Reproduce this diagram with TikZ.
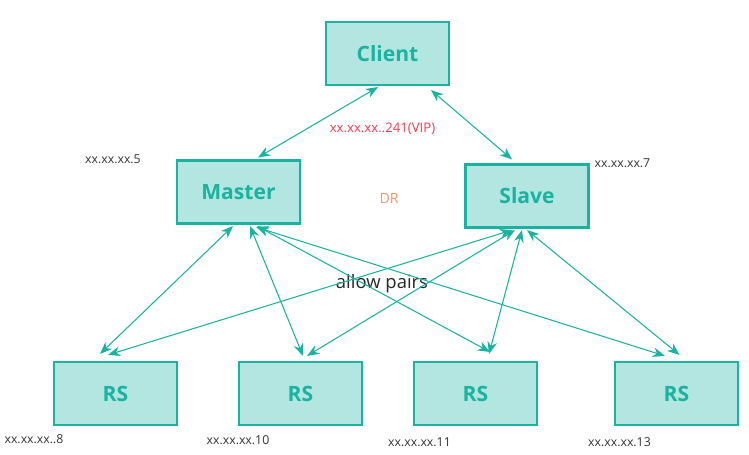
\documentclass[tikz,border=0pt]{standalone}
\usepackage{fontspec}
\setmainfont{Open Sans}
\definecolor{BoxTeal}{RGB}{26,178,160}
\definecolor{BoxFill}{RGB}{179,230,225}
\definecolor{VipRed}{RGB}{240,60,80}
\definecolor{DrOrange}{RGB}{240,150,100}
\usetikzlibrary{arrows.meta, positioning, calc}

\begin{document}
\begin{tikzpicture}[font=\small,
	caja/.style={rectangle, draw=BoxTeal, line width=1.2pt, fill=BoxFill, minimum height=1.26cm, minimum width=2.46cm, text=BoxTeal, font=\fontsize{12}{14}\selectfont\bfseries},
	ip/.style={font=\fontsize{7}{8}\selectfont, text=black!80},
	enlace/.style={{Stealth[length=7pt, width=5.5pt]}-{Stealth[length=7pt, width=5.5pt]}, BoxTeal, line width=0.6pt}]
	\useasboundingbox (0,0) rectangle (14.98,9.1);
	\node[caja] (client) at (7.75,8.03) {Client};
	\node[caja] (master) at (4.77,5.26) {Master};
	\node[caja] (slave) at (10.54,5.18) {Slave};
	\node[caja] (rs1) at (2.31,1.23) {RS};
	\node[caja] (rs2) at (6.01,1.23) {RS};
	\node[caja] (rs3) at (9.51,1.23) {RS};
	\node[caja] (rs4) at (13.53,1.23) {RS};
	\node[ip] (ip5) at (2.26,5.92) {xx.xx.xx.5};
	\node[ip] (ip7) at (12.45,5.84) {xx.xx.xx.7};
	\node[ip] (ip8) at (0.68,0.32) {xx.xx.xx..8};
	\node[ip] (ip10) at (4.76,0.30) {xx.xx.xx.10};
	\node[ip] (ip11) at (8.39,0.26) {xx.xx.xx.11};
	\node[ip] (ip13) at (12.39,0.26) {xx.xx.xx.13};
	\node[font=\fontsize{7.5}{9}\selectfont, text=VipRed] (vip) at (7.65,6.52) {xx.xx.xx..241(VIP)};
	\node[font=\fontsize{8}{9}\selectfont, text=DrOrange] (dr) at (7.78,5.14) {DR};
	\node[font=\fontsize{10.5}{12}\selectfont, text=black!85] (pairs) at (7.64,3.42) {allow pairs};
	\draw[enlace] ([xshift=-0.19cm, yshift=-0.02cm]client.south) -- ([xshift=0.39cm, yshift=0.04cm]master.north);
	\draw[enlace] ([xshift=0.87cm, yshift=-0.08cm]client.south) -- ([xshift=-0.30cm, yshift=0.08cm]slave.north);
	\draw[enlace] ([xshift=-0.11cm, yshift=-0.03cm]master.south) -- ([xshift=-0.31cm, yshift=0.14cm]rs1.north);
	\draw[enlace] ([xshift=0.23cm, yshift=-0.03cm]master.south) -- ([xshift=0.05cm, yshift=0.10cm]rs2.north);
	\draw[enlace] ([xshift=0.37cm, yshift=-0.03cm]master.south) -- ([xshift=0.29cm, yshift=0.18cm]rs3.north);
	\draw[enlace] ([xshift=0.35cm, yshift=-0.05cm]master.south) -- ([xshift=-0.23cm, yshift=0.10cm]rs4.north);
	\draw[enlace] ([xshift=-0.30cm, yshift=-0.03cm]slave.south) -- ([xshift=-0.15cm, yshift=0.12cm]rs1.north);
	\draw[enlace] ([xshift=-0.24cm, yshift=-0.03cm]slave.south) -- ([xshift=0.13cm, yshift=0.10cm]rs2.north);
	\draw[enlace] ([xshift=-0.10cm, yshift=-0.03cm]slave.south) -- ([xshift=0.27cm, yshift=0.14cm]rs3.north);
	\draw[enlace] ([xshift=0.00cm, yshift=-0.03cm]slave.south) -- ([xshift=0.06cm, yshift=0.12cm]rs4.north);
\end{tikzpicture}
\end{document}
